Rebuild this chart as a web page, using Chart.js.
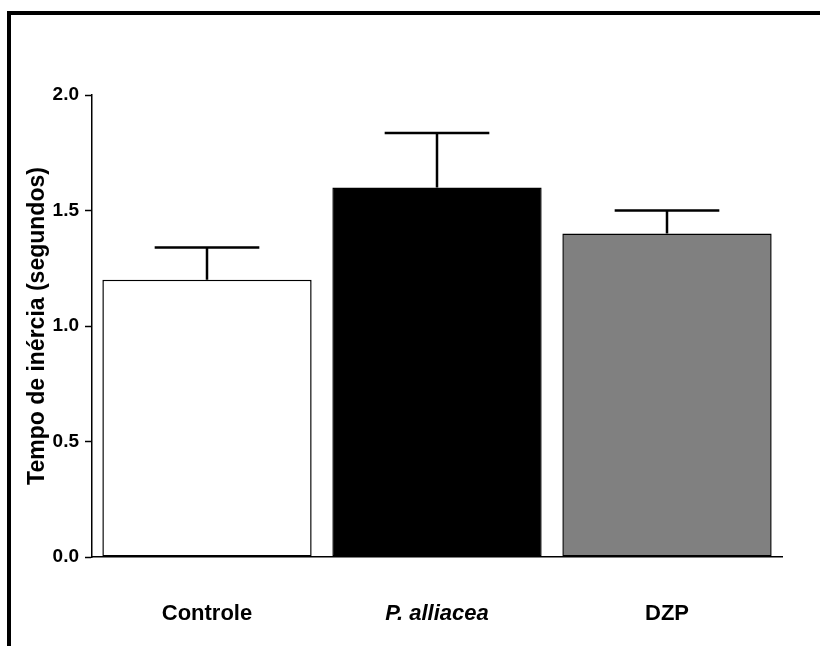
<!DOCTYPE html>
<html>
<head>
<meta charset="utf-8">
<script src="https://cdn.jsdelivr.net/npm/chart.js@4.4.1/dist/chart.umd.min.js"></script>
<style>
    html, body { margin: 0; padding: 0; background: #fff; }
    #wrap { position: relative; width: 820px; height: 646px; }
</style>
</head>
<body>
<div id="wrap"><canvas id="inertiaChart" width="820" height="646"></canvas></div>
<script>
/* ==========================================
   Tempo de inércia - média + EPM
   ========================================== */

const groups = ["Controle", "P. alliacea", "DZP"];
const means = [1.20, 1.60, 1.40];
const sem = [0.14, 0.235, 0.10];
const barColors = ["#ffffff", "#000000", "#808080"];
const yTicks = [0.0, 0.5, 1.0, 1.5, 2.0];

const FONT = "'Liberation Sans', Arial, sans-serif";

// moldura preta (esquerda e topo)
const framePlugin = {
    id: "frame",
    beforeDraw(chart) {
        const c = chart.ctx;
        c.save();
        c.fillStyle = "#000";
        c.fillRect(7, 11, 4, 646);
        c.fillRect(7, 11, 820, 4);
        c.restore();
    }
};

// barras de erro só para cima
const errorBarPlugin = {
    id: "errorBars",
    afterDatasetsDraw(chart) {
        const c = chart.ctx;
        const meta = chart.getDatasetMeta(0);
        const y = chart.scales.y;
        c.save();
        c.strokeStyle = "#000";
        c.lineWidth = 2.5;
        meta.data.forEach(function (bar, i) {
            const top = y.getPixelForValue(means[i] + sem[i]);
            const half = bar.width / 4;
            c.beginPath();
            c.moveTo(bar.x, bar.y);
            c.lineTo(bar.x, top);
            c.moveTo(bar.x - half, top);
            c.lineTo(bar.x + half, top);
            c.stroke();
        });
        c.restore();
    }
};

new Chart(document.getElementById("inertiaChart"), {
    type: "bar",
    data: {
        labels: groups,
        datasets: [{
            data: means,
            backgroundColor: barColors,
            borderColor: "#000",
            borderWidth: 1.5,
            borderSkipped: false,
            categoryPercentage: 0.91,
            barPercentage: 1.0
        }]
    },
    options: {
        responsive: false,
        animation: false,
        devicePixelRatio: 1,
        layout: { padding: { top: 95, right: 38, bottom: 0, left: 0 } },
        plugins: {
            legend: { display: false },
            tooltip: { enabled: false }
        },
        scales: {
            x: {
                grid: { display: false, drawTicks: false },
                border: { color: "#000", width: 1.5 },
                ticks: {
                    color: "#000",
                    padding: 44,
                    font: function (ctx) {
                        return {
                            family: FONT, size: 22, weight: "bold",
                            style: ctx.index === 1 ? "italic" : "normal"
                        };
                    }
                },
                afterFit(scale) { scale.height = 89; }
            },
            y: {
                min: 0,
                max: 2,
                afterBuildTicks(scale) {
                    scale.ticks = yTicks.map(v => ({ value: v }));
                },
                grid: {
                    drawOnChartArea: false,
                    drawTicks: true,
                    tickLength: 7,
                    tickWidth: 1.5,
                    color: "#000"
                },
                border: { color: "#000", width: 1.5 },
                ticks: {
                    color: "#000",
                    padding: 6,
                    font: { family: FONT, size: 19, weight: "bold" },
                    callback: v => Number(v).toFixed(1)
                },
                title: {
                    display: true,
                    text: "Tempo de inércia (segundos)",
                    color: "#000",
                    padding: { top: 24, bottom: 0 },
                    font: { family: FONT, size: 23, weight: "bold" }
                },
                afterFit(scale) { scale.width = 92; }
            }
        }
    },
    plugins: [framePlugin, errorBarPlugin]
});
</script>
</body>
</html>
